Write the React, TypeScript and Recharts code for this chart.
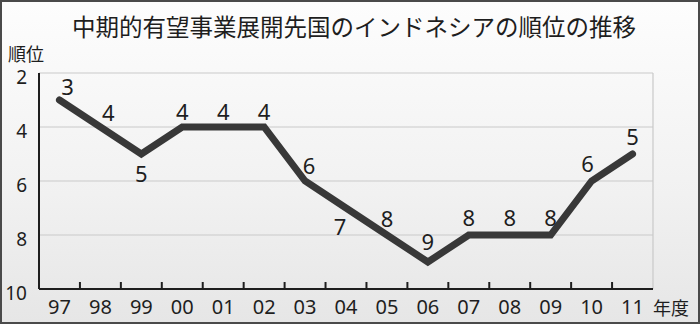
import React from "react";
import {
  LineChart,
  Line,
  XAxis,
  YAxis,
  CartesianGrid,
  LabelList,
} from "recharts";

const years = ["97", "98", "99", "00", "01", "02", "03", "04", "05", "06", "07", "08", "09", "10", "11"];
const ranks = [3, 4, 5, 4, 4, 4, 6, 7, 8, 9, 8, 8, 8, 6, 5];
const rankTicks = [2, 4, 6, 8, 10];

// where each value label sits relative to its point (dx, dy)
const labelOffsets: [number, number][] = [
  [8, -14], [8, -15], [0, 19], [0, -16], [0, -16], [0, -16], [4, -16],
  [-6, 18], [0, -17], [0, -21], [0, -18], [0, -18], [0, -18], [-4, -18], [0, -18],
];

const data = years.map((y, i) => ({ year: y, rank: ranks[i] }));

const W = 700;
const H = 324;
const margin = { top: 73, right: 47, bottom: 0, left: 0 };
const yAxisW = 39;
const xAxisH = 35;
const band = (W - margin.left - margin.right - yAxisW) / years.length;

const font = "'Noto Sans', 'Noto Sans CJK JP', sans-serif";
const jpFont = "'Noto Sans CJK JP', sans-serif";
const ink = "#1e1e1e";

const XTick = (props: any) => {
  const { x, y, payload, index } = props;
  return (
    <g>
      {index > 0 && (
        <line x1={x - band / 2} x2={x - band / 2} y1={y} y2={y - 7} stroke={ink} strokeWidth={2} />
      )}
      <text x={x} y={y + 25} textAnchor="middle" fontSize={20} fill={ink} fontFamily={font}>
        {payload.value}
      </text>
    </g>
  );
};

const YTick = (props: any) => {
  const { x, y, payload } = props;
  return (
    <text x={x} y={y + 4} textAnchor="end" dominantBaseline="central" fontSize={19} fill={ink} fontFamily={font}>
      {payload.value}
    </text>
  );
};

const ValueLabel = (props: any) => {
  const { x, y, value, index } = props;
  const [dx, dy] = labelOffsets[index] ?? [0, -16];
  return (
    <text
      x={x + dx}
      y={y + dy}
      textAnchor="middle"
      dominantBaseline="central"
      fontSize={22}
      fill={ink}
      fontFamily={font}
    >
      {value}
    </text>
  );
};

export default function App() {
  return (
    <div
      style={{
        position: "absolute",
        left: 0,
        top: 0,
        width: W,
        height: H,
        boxSizing: "border-box",
        border: "2px solid #4a4a4a",
        background: "linear-gradient(180deg, #fdfdfd 0%, #f1f1f1 60%, #e6e6e6 100%)",
        fontFamily: font,
        color: ink,
        overflow: "hidden",
      }}
    >
      <div style={{ position: "absolute", left: -2, top: -2, width: W, height: H }}>
        <LineChart width={W} height={H} data={data} margin={margin}>
          <CartesianGrid
            vertical
            verticalCoordinatesGenerator={({ offset }: any) => [offset.left + offset.width]}
            stroke="#c9c9c9"
            strokeWidth={1.2}
          />
          {/* dark left axis line */}
          <CartesianGrid
            horizontal={false}
            vertical
            verticalCoordinatesGenerator={({ offset }: any) => [offset.left]}
            stroke={ink}
            strokeWidth={2}
          />
          <XAxis
            dataKey="year"
            scale="band"
            height={xAxisH}
            tickSize={0}
            tickMargin={0}
            tickLine={false}
            stroke={ink}
            strokeWidth={2}
            axisLine
            tick={<XTick />}
            interval={0}
          />
          <YAxis
            width={yAxisW}
            domain={[2, 10]}
            ticks={rankTicks}
            reversed
            interval={0}
            tickLine={false}
            tickMargin={6}
            stroke={ink}
            strokeWidth={2}
            axisLine
            tick={<YTick />}
          />
          <Line
            dataKey="rank"
            stroke="#383838"
            strokeWidth={7}
            strokeLinecap="round"
            strokeLinejoin="miter"
            dot={false}
            activeDot={false}
            isAnimationActive={false}
          >
            <LabelList dataKey="rank" content={<ValueLabel />} />
          </Line>
        </LineChart>
      </div>
      <div
        style={{
          position: "absolute",
          left: 4,
          width: W - 4,
          top: 9,
          textAlign: "center",
          fontSize: 23.5,
          lineHeight: "30px",
          whiteSpace: "nowrap",
          fontFamily: jpFont,
        }}
      >
        中期的有望事業展開先国のインドネシアの順位の推移
      </div>
      <div
        style={{
          position: "absolute",
          left: 6,
          top: 39,
          fontSize: 18,
          lineHeight: "24px",
          fontFamily: jpFont,
        }}
      >
        順位
      </div>
      <div
        style={{
          position: "absolute",
          left: 651,
          top: 293,
          fontSize: 18,
          lineHeight: "24px",
          fontFamily: jpFont,
        }}
      >
        年度
      </div>
    </div>
  );
}
